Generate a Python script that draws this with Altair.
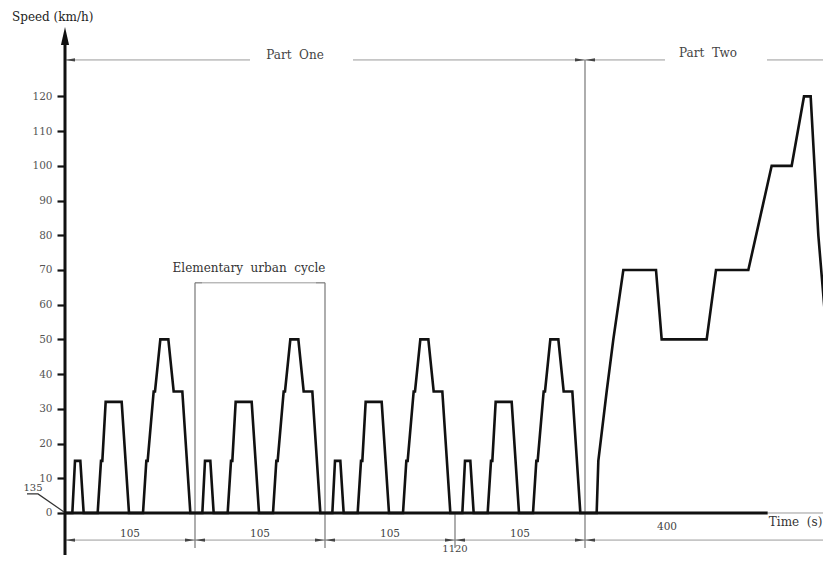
import altair as alt
import pandas as pd

# ---------------- data ----------------
# speed profile (time s, speed km/h)
time_s = [
    0, 11, 15, 23, 28, 49, 54, 56, 61, 85, 96, 117, 122, 124, 133, 135, 143, 155, 163, 176, 188,
    195, 206, 210, 218, 223, 244, 249, 251, 256, 280, 291, 312, 317, 319, 328, 330, 338, 350, 358, 371, 383,
    390, 401, 405, 413, 418, 439, 444, 446, 451, 475, 486, 507, 512, 514, 523, 525, 533, 545, 553, 566, 578,
    585, 596, 600, 608, 613, 634, 639, 641, 646, 670, 681, 702, 707, 709, 718, 720, 728, 740, 748, 761, 773,
    780, 797.5, 800, 812.5, 822.5, 837.5, 886.5, 895, 962.5, 976.5, 1025, 1060, 1090, 1108.5, 1118.5,
    1130, 1143, 1153, 1180,
]
speed_kmh = [
    0, 0, 15, 15, 0, 0, 15, 15, 32, 32, 0, 0, 15, 15, 35, 35, 50, 50, 35, 35, 0,
    0, 0, 15, 15, 0, 0, 15, 15, 32, 32, 0, 0, 15, 15, 35, 35, 50, 50, 35, 35, 0,
    0, 0, 15, 15, 0, 0, 15, 15, 32, 32, 0, 0, 15, 15, 35, 35, 50, 50, 35, 35, 0,
    0, 0, 15, 15, 0, 0, 15, 15, 32, 32, 0, 0, 15, 15, 35, 35, 50, 50, 35, 35, 0,
    0, 0, 15, 35, 50, 70, 70, 50, 50, 70, 70, 100, 100, 120, 120,
    80, 50, 0, 0,
]
y_ticks = [0, 10, 20, 30, 40, 50, 60, 70, 80, 90, 100, 110, 120]

# cycle boundaries and their dimension labels
boundaries = [0, 195, 390, 585, 780]
seg_labels = ["105", "105", "105", "105", "400"]
seg_label_t = [97.5, 292.5, 487.5, 682.5, 903]
seg_label_v = [-6.0, -6.0, -6.0, -6.0, -4.0]

# annotation texts
NB = "\u00a0"
ann_text = ["Speed" + NB + "(km/h)", "Part" + NB + NB + "One", "Part" + NB + NB + "Two",
            "Elementary" + NB + " urban" + NB + " cycle", "Time" + NB + NB + "(s)", "1120", "135"]
ann_t = [-79.5, 345, 964.5, 276, 1136, 585, -48]
ann_v = [142.9, 132.0, 132.5, 70.6, -2.6, -11.9, 7.2]
ann_align = ["left", "center", "center", "center", "right", "center", "center"]
ann_base = ["middle", "middle", "middle", "middle", "middle", "bottom", "middle"]
ann_size = [12, 12, 12, 12, 12, 10, 10]
ann_color = ["#222", "#444", "#444", "#333", "#333", "#444", "#444"]

T_MAX, V_MIN, V_MAX = 1137, -12.1, 144.6
SERIF = "DejaVu Serif"

xs = alt.Scale(domain=[0, T_MAX], nice=False, zero=False)
ys = alt.Scale(domain=[V_MIN, V_MAX], nice=False, zero=False)
yaxis = alt.Axis(values=y_ticks, title=None, domain=False, grid=False, tickSize=8,
                 tickWidth=2.2, tickColor="#111", labelFont=SERIF, labelFontSize=10.5,
                 labelColor="#555", labelPadding=5)


def X(f="t"):
    return alt.X(f"{f}:Q", scale=xs, axis=None)


def Y(f="v"):
    return alt.Y(f"{f}:Q", scale=ys, axis=yaxis)


profile = pd.DataFrame({"t": time_s, "v": speed_kmh, "o": range(len(time_s))})
line = alt.Chart(profile).mark_line(color="#111", strokeWidth=2.6).encode(
    x=X(), y=Y(), order="o:Q")

# thick black axes
axes_df = pd.DataFrame({"t": [0, 0], "t2": [0, 1054], "v": [V_MIN, 0], "v2": [136, 0]})
axes = alt.Chart(axes_df).mark_rule(color="#111", strokeWidth=3).encode(
    x=X(), x2="t2:Q", y=Y(), y2="v2:Q")

# thin grey dimension lines
dim_df = pd.DataFrame({
    "t":  [0, 432, 780, 1053, 0, 1054, 205.5],
    "t2": [277.5, 780, 900, 1137, 1137, 1137, 376.5],
    "v":  [130.5, 130.5, 130.5, 130.5, -7.8, 0, 66.3],
    "v2": [130.5, 130.5, 130.5, 130.5, -7.8, 0, 66.3],
})
dims = alt.Chart(dim_df).mark_rule(color="#9a9a9a", strokeWidth=1).encode(
    x=X(), x2="t2:Q", y=Y(), y2="v2:Q")

# vertical grey lines and bracket hooks
vert_df = pd.DataFrame({
    "t":  [195, 390, 585, 780, 195, 376.5],
    "t2": [195, 390, 585, 780, 205.5, 390],
    "v":  [-10.1, -10.1, -10.1, -10.1, 66.3, 66.3],
    "v2": [66.3, 66.3, 0, 130.5, 66.3, 66.3],
})
verts = alt.Chart(vert_df).mark_rule(color="#777", strokeWidth=1.2).encode(
    x=X(), x2="t2:Q", y=Y(), y2="v2:Q")

# arrow heads on dimension lines
left_t = [7.5, 202.5, 397.5, 592.5, 787.5, 7.5, 787.5]
left_v = [-7.8, -7.8, -7.8, -7.8, -7.8, 130.5, 130.5]
right_t = [187.5, 382.5, 577.5, 772.5, 772.5]
right_v = [-7.8, -7.8, -7.8, -7.8, 130.5]
la = alt.Chart(pd.DataFrame({"t": left_t, "v": left_v})).mark_point(
    shape="M-1,0L1,-0.32L1,0.32Z", size=100, filled=True, color="#444", opacity=1).encode(x=X(), y=Y())
ra = alt.Chart(pd.DataFrame({"t": right_t, "v": right_v})).mark_point(
    shape="M1,0L-1,-0.32L-1,0.32Z", size=100, filled=True, color="#444", opacity=1).encode(x=X(), y=Y())

# top arrow of the speed axis
top = alt.Chart(pd.DataFrame({"t": [0], "v": [137.4]})).mark_point(
    shape="M0,-1L0.45,1L-0.45,1Z", size=324, filled=True, color="#111", opacity=1).encode(x=X(), y=Y())

# leader line for "135"
lead = alt.Chart(pd.DataFrame({"t": [-57, -40.5, -1.5], "v": [5.5, 5.5, 0.3], "o": [0, 1, 2]})).mark_line(
    color="#333", strokeWidth=1.2).encode(x=X(), y=Y(), order="o:Q")

# segment labels
seg = alt.Chart(pd.DataFrame({"t": seg_label_t, "v": seg_label_v, "s": seg_labels})).mark_text(
    font=SERIF, fontSize=10.5, color="#444").encode(x=X(), y=Y(), text="s:N")

texts = []
for s, t, v, a, b, fs, c in zip(ann_text, ann_t, ann_v, ann_align, ann_base, ann_size, ann_color):
    texts.append(alt.Chart(pd.DataFrame({"t": [t], "v": [v], "s": [s]})).mark_text(
        font=SERIF, fontSize=fs, color=c, align=a, baseline=b).encode(x=X(), y=Y(), text="s:N"))

chart = alt.layer(line, dims, verts, axes, la, ra, top, lead, seg, *texts).properties(
    width=758, height=544, autosize="none", background="white",
    padding={"left": 57, "top": 3, "right": 0, "bottom": 0},
).configure_view(strokeWidth=0, stroke="transparent")

chart.save("out.html", embed_options={"renderer": "svg", "actions": False})
